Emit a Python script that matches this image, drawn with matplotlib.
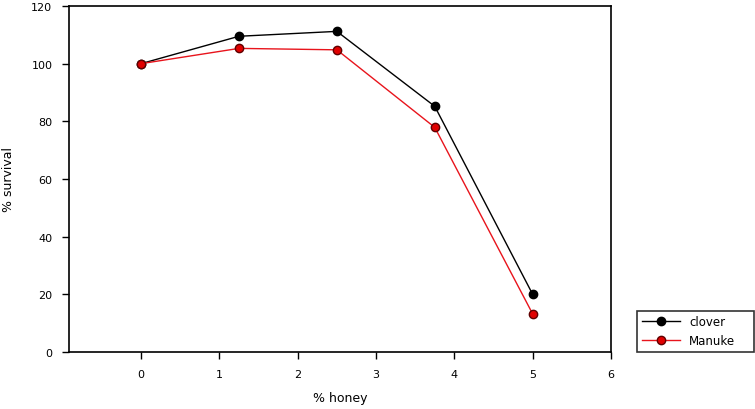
import matplotlib
matplotlib.use("Agg")
import matplotlib.pyplot as plt
from matplotlib.lines import Line2D

honey = [0, 1.25, 2.5, 3.75, 5]
clover = [100, 109.5, 111.2, 85.2, 20.0]
manuke = [100, 105.3, 104.8, 77.9, 13.2]

W, H = 755, 410
fig = plt.figure(figsize=(W / 100, H / 100), dpi=100)
ax = fig.add_axes([69 / W, 1 - 353 / H, (611 - 69) / W, (353 - 7) / H])

ax.plot(honey, clover, "-o", color="black", lw=1.0, ms=6,
        markerfacecolor="black", markeredgecolor="black", zorder=3)
ax.plot(honey, manuke, "-o", color="#e8141c", lw=1.0, ms=6,
        markerfacecolor="#e00000", markeredgecolor="#600000", zorder=4)

ax.set_xlim(-0.92, 6)
ax.set_ylim(0, 120)
ax.set_xticks([0, 1, 2, 3, 4, 5, 6])
ax.set_yticks([0, 20, 40, 60, 80, 100, 120])
ax.tick_params(direction="out", length=5, width=1, labelsize=8, pad=7)
for s in ax.spines.values():
    s.set_linewidth(1.2)

ax.set_xlabel("% honey", fontsize=9, labelpad=9)
ax.set_ylabel("% survival", fontsize=9, labelpad=12)

handles = [
    Line2D([], [], color="black", marker="o", ms=6, lw=1.0,
           markerfacecolor="black", markeredgecolor="black"),
    Line2D([], [], color="#e8141c", marker="o", ms=6, lw=1.0,
           markerfacecolor="#e00000", markeredgecolor="#600000"),
]
leg = fig.legend(handles, ["clover", "Manuke"], loc="lower left",
                 bbox_to_anchor=(637 / W, 1 - 353 / H, (754 - 637) / W, (353 - 301) / H),
                 mode="expand", fontsize=8.5, frameon=True, fancybox=False,
                 edgecolor="black", handlelength=3.2, borderaxespad=0)
leg.get_frame().set_linewidth(1.2)

fig.savefig("out.png", dpi=100)
